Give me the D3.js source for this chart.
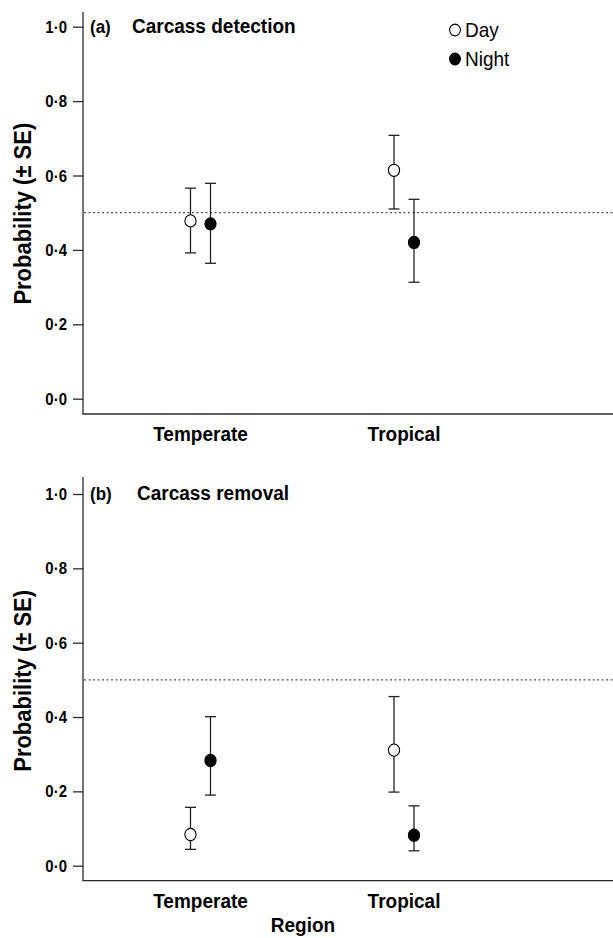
<!DOCTYPE html>
<html lang="en">
<head>
<meta charset="UTF-8" />
<title>Carcass detection and removal</title>
<script src="https://d3js.org/d3.v7.min.js"></script>
<style>
    body { margin: 0; background: #fff; }
    svg { display: block; font-family: "Liberation Sans", Arial, sans-serif; }
</style>
</head>
<body>
<svg id="chart" width="613" height="938"></svg>
<script>
    // values
    const regions = ["Temperate", "Tropical"];
    const periods = ["Day", "Night"];
    const yTicks = [0, 0.2, 0.4, 0.6, 0.8, 1.0];
    const refLine = 0.5;

    const detectionDay = [0.478, 0.614];
    const detectionDayLower = [0.392, 0.510];
    const detectionDayUpper = [0.566, 0.708];
    const detectionNight = [0.470, 0.420];
    const detectionNightLower = [0.364, 0.313];
    const detectionNightUpper = [0.579, 0.536];

    const removalDay = [0.084, 0.311];
    const removalDayLower = [0.044, 0.198];
    const removalDayUpper = [0.157, 0.455];
    const removalNight = [0.283, 0.082];
    const removalNightLower = [0.190, 0.040];
    const removalNightUpper = [0.401, 0.161];

    const svg = d3.select("#chart");
    const stretch = 1.1; // text in the figure is slightly tall

    function label(parent, x, y, txt, opts) {
        opts = opts || {};
        return parent.append("text")
            .attr("transform", `translate(${x},${y}) rotate(${opts.rotate || 0}) scale(1,${stretch})`)
            .attr("text-anchor", opts.anchor || "start")
            .style("font-size", (opts.size || 19) + "px")
            .style("font-weight", opts.weight || "bold")
            .style("font-family", '"Liberation Sans", Arial, sans-serif')
            .attr("fill", "#000")
            .text(txt);
    }

    const x = d3.scalePoint().domain(regions).range([200.5, 404]);
    const dx = d3.scalePoint().domain(periods).range([-10, 10]);
    const fmt = (d) => d3.format(".1f")(d).replace(".", "\u00b7");

    function panel(cfg) {
        const y = d3.scaleLinear().domain([0, 1]).range([cfg.y0, cfg.y1]);
        const g = svg.append("g");

        // y ticks and labels
        const ya = g.append("g")
            .attr("transform", "translate(83,0)")
            .call(d3.axisLeft(y).tickValues(yTicks).tickFormat(fmt).tickSize(10).tickPadding(6).tickSizeOuter(0));
        ya.select(".domain").remove();
        ya.selectAll("line").attr("stroke", "#2b2b2b").attr("stroke-width", 1.3);
        ya.selectAll("text")
            .attr("dy", null)
            .attr("transform", `translate(0,5.5) scale(1,${stretch})`)
            .style("font-size", "15px")
            .style("font-weight", "bold")
            .style("font-family", '"Liberation Sans", Arial, sans-serif')
            .attr("fill", "#000");

        g.append("line")
            .attr("x1", 83).attr("x2", 83)
            .attr("y1", cfg.top).attr("y2", cfg.bottom)
            .attr("stroke", "#2b2b2b").attr("stroke-width", 1.3);
        g.append("line")
            .attr("x1", 82.4).attr("x2", 613)
            .attr("y1", cfg.bottom).attr("y2", cfg.bottom)
            .attr("stroke", "#2b2b2b").attr("stroke-width", 1.3);

        // reference line
        g.append("line")
            .attr("x1", 84).attr("x2", 613)
            .attr("y1", y(refLine)).attr("y2", y(refLine))
            .attr("stroke", "#555").attr("stroke-width", 1.2)
            .attr("stroke-dasharray", "2,2.5");

        // points with error bars
        const series = [
            { p: "Day", mean: cfg.day, lo: cfg.dayLo, hi: cfg.dayHi, fill: "#fff" },
            { p: "Night", mean: cfg.night, lo: cfg.nightLo, hi: cfg.nightHi, fill: "#000" }
        ];
        series.forEach((s) => {
            regions.forEach((r, i) => {
                const cx = x(r) + dx(s.p);
                g.append("line")
                    .attr("x1", cx).attr("x2", cx)
                    .attr("y1", y(s.lo[i])).attr("y2", y(s.hi[i]))
                    .attr("stroke", "#222").attr("stroke-width", 1.3);
                [s.lo[i], s.hi[i]].forEach((v) => {
                    g.append("line")
                        .attr("x1", cx - 5.5).attr("x2", cx + 5.5)
                        .attr("y1", y(v)).attr("y2", y(v))
                        .attr("stroke", "#222").attr("stroke-width", 1.3);
                });
                g.append("ellipse")
                    .attr("cx", cx).attr("cy", y(s.mean[i]))
                    .attr("rx", 5.6).attr("ry", 6.1)
                    .attr("fill", s.fill).attr("stroke", "#000").attr("stroke-width", 1.1);
            });
        });

        // category labels
        regions.forEach((r) => label(g, x(r), cfg.bottom + 27, r, { anchor: "middle", size: 19 }));

        // y axis title
        label(g, 31, (cfg.y0 + cfg.y1) / 2 + 1, "Probability (\u00b1 SE)", { anchor: "middle", size: 22, rotate: -90 });

        // panel tag and title
        label(g, 90, cfg.y1 + 6, cfg.tag, { size: 17 });
        label(g, cfg.titleX, cfg.y1 + 6, cfg.title, { size: 19 });
    }

    panel({
        y0: 398.7, y1: 26.7, top: 12, bottom: 414,
        tag: "(a)", title: "Carcass detection", titleX: 132,
        day: detectionDay, dayLo: detectionDayLower, dayHi: detectionDayUpper,
        night: detectionNight, nightLo: detectionNightLower, nightHi: detectionNightUpper
    });
    panel({
        y0: 865.7, y1: 494, top: 477, bottom: 880.7,
        tag: "(b)", title: "Carcass removal", titleX: 137,
        day: removalDay, dayLo: removalDayLower, dayHi: removalDayUpper,
        night: removalNight, nightLo: removalNightLower, nightHi: removalNightUpper
    });

    // legend
    const legend = svg.append("g");
    periods.forEach((p, i) => {
        const ly = 30 + i * 29;
        legend.append("ellipse")
            .attr("cx", 455).attr("cy", ly)
            .attr("rx", 5.4).attr("ry", 5.9)
            .attr("fill", p === "Day" ? "#fff" : "#000")
            .attr("stroke", "#000").attr("stroke-width", 1.1);
        label(legend, 465, ly + 7, p, { size: 19, weight: "normal" });
    });

    // x axis title
    label(svg, 303, 932, "Region", { anchor: "middle", size: 19 });
</script>
</body>
</html>
